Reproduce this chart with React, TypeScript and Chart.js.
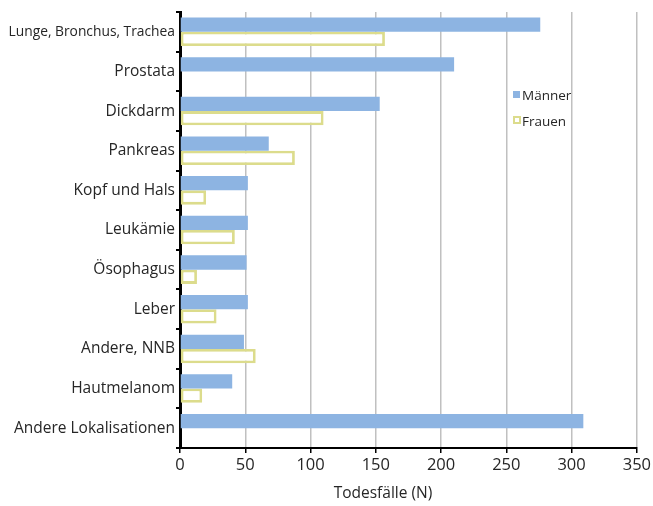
import React, { useEffect, useRef } from 'react';
import { Chart, registerables } from 'chart.js';
Chart.register(...registerables);

const categories = [
  'Lunge, Bronchus, Trachea',
  'Prostata',
  'Dickdarm',
  'Pankreas',
  'Kopf und Hals',
  'Leukämie',
  'Ösophagus',
  'Leber',
  'Andere, NNB',
  'Hautmelanom',
  'Andere Lokalisationen',
];
const maenner = [276, 210, 153, 68, 52, 52, 51, 52, 49, 40, 309];
const frauen: (number | null)[] = [157, null, 110, 88, 20, 42, 13, 28, 58, 17, null];
const seriesNames = ['Männer', 'Frauen'];
const xMin = 0;
const xMax = 350;
const xStep = 50;
const xTitle = 'Todesfälle (N)';

const BLUE = '#8db4e2';
const YELLOW = '#dcdc8c';
const TEXT = '#262626';
const FONT = "'Open Sans', 'DejaVu Sans', sans-serif";

const legendPlugin = {
  id: 'customLegend',
  afterDraw(chart: any) {
    const ctx = chart.ctx;
    const x = 513;
    const y1 = 96;
    const y2 = 122;
    ctx.save();
    ctx.fillStyle = BLUE;
    ctx.fillRect(x, y1 - 5, 7, 7);
    ctx.strokeStyle = YELLOW;
    ctx.lineWidth = 2;
    ctx.strokeRect(x + 1, y2 - 5, 6, 6);
    ctx.fillStyle = TEXT;
    ctx.font = `13.5px ${FONT}`;
    ctx.textBaseline = 'middle';
    ctx.textAlign = 'left';
    ctx.fillText(seriesNames[0], x + 9, y1);
    ctx.fillText(seriesNames[1], x + 9, y2);
    // x axis title
    ctx.font = `15.5px ${FONT}`;
    ctx.textAlign = 'center';
    ctx.fillText(xTitle, 383, 494);
    ctx.restore();
  },
};

export default function App() {
  const ref = useRef<HTMLCanvasElement>(null);
  useEffect(() => {
    document.body.style.margin = '0';
    const chart = new Chart(ref.current!, {
      type: 'bar',
      data: {
        labels: categories,
        datasets: [
          {
            label: seriesNames[0],
            data: maenner,
            backgroundColor: BLUE,
            borderWidth: 0,
            categoryPercentage: 0.72,
            barPercentage: 1.0,
          },
          {
            label: seriesNames[1],
            data: frauen,
            backgroundColor: '#ffffff',
            borderColor: YELLOW,
            borderWidth: 2.8,
            borderSkipped: false,
            categoryPercentage: 0.72,
            barPercentage: 1.0,
          },
        ],
      },
      options: {
        indexAxis: 'y',
        animation: false,
        responsive: false,
        layout: { padding: { top: 12, right: 13, left: 0, bottom: 0 } },
        plugins: {
          legend: { display: false },
          tooltip: { enabled: false },
        },
        scales: {
          x: {
            min: xMin,
            max: xMax,
            ticks: {
              stepSize: xStep,
              color: TEXT,
              font: { family: FONT, size: 16.5 },
              padding: 2,
            },
            grid: {
              color: '#c0c0c0',
              lineWidth: 1.5,
              tickColor: '#000',
              tickLength: 5,
            },
            border: { color: '#000', width: 2 },
            afterFit(scale: any) {
              scale.height = 58;
            },
          },
          y: {
            ticks: {
              color: TEXT,
              font: (c: any) => ({ family: FONT, size: c.index === 0 ? 13.8 : 15.5 }),
              padding: 1,
            },
            grid: {
              offset: true,
              drawOnChartArea: false,
              tickColor: '#000',
              tickLength: 4,
              lineWidth: 2,
            },
            border: { color: '#000', width: 3 },
            afterFit(scale: any) {
              scale.width = 180;
            },
          },
        },
      },
      plugins: [legendPlugin],
    });
    return () => chart.destroy();
  }, []);
  return <canvas ref={ref} width={653} height={506} style={{ display: 'block' }} />;
}
